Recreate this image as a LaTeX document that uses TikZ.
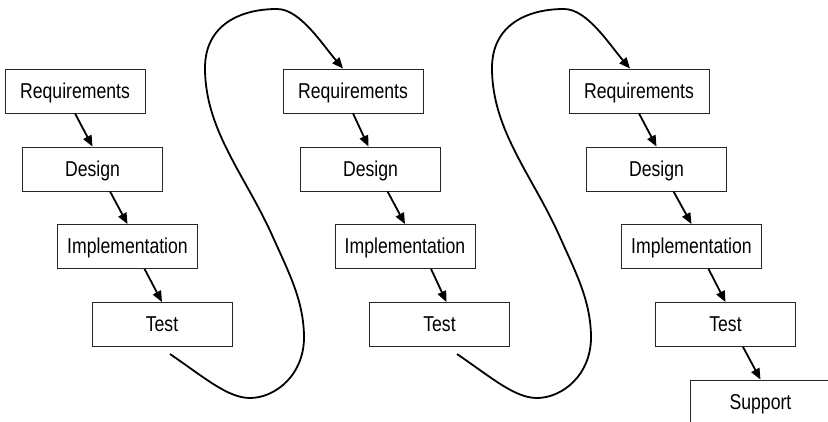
\documentclass[tikz,border=0pt]{standalone}
\usepackage{fontspec}
\setmainfont{Liberation Sans}
\newfontfamily\boxfont{Liberation Sans}[FakeStretch=0.82]
\usetikzlibrary{arrows.meta}
\tikzset{
  phase/.style={draw=black!85, line width=0.8pt, minimum width=140pt, minimum height=44pt,
    inner sep=0pt, text height=15pt, text depth=0pt, font=\boxfont\fontsize{21.5}{24}\selectfont},
  flow/.style={line width=1.8pt, -{Triangle[length=11pt,width=9pt]}},
  loopback/.style={line width=1.8pt, -{Triangle[length=11pt,width=9pt]}}
}
\begin{document}
\begin{tikzpicture}[x=1pt, y=-1pt]
\useasboundingbox (0,0) rectangle (828,422);
\clip (0,0) rectangle (828,422);
\fill[white] (0,0) rectangle (828,422);

% first iteration
\node[phase] (r1) at (75,91)     {Requirements};
\node[phase] (d1) at (92.5,169)  {Design};
\node[phase] (i1) at (127.5,246.5) {Implementation};
\node[phase] (t1) at (162,324.5) {Test};

% second iteration
\node[phase] (r2) at (353,91)     {Requirements};
\node[phase] (d2) at (370.5,169)  {Design};
\node[phase] (i2) at (405,246.5)  {Implementation};
\node[phase] (t2) at (439.5,324.5) {Test};

% third iteration
\node[phase] (r3) at (639,91)      {Requirements};
\node[phase] (d3) at (656.5,169)   {Design};
\node[phase] (i3) at (691.5,246.5) {Implementation};
\node[phase] (t3) at (725.5,324.5) {Test};
\node[phase] (s3) at (760.5,402)   {Support};

% cascade arrows
\draw[flow] (r1.south) -- (d1.north);
\draw[flow] ([xshift=17.5pt]d1.south) -- (i1.north);
\draw[flow] ([xshift=17pt]i1.south) -- (t1.north);

\draw[flow] (r2.south) -- ([xshift=-2pt]d2.north);
\draw[flow] ([xshift=17pt]d2.south) -- (i2.north);
\draw[flow] ([xshift=26pt]i2.south) -- ([xshift=7pt]t2.north);

\draw[flow] (r3.south) -- (d3.north);
\draw[flow] ([xshift=17pt]d3.south) -- (i3.north);
\draw[flow] ([xshift=17pt]i3.south) -- (t3.north);
\draw[flow] ([xshift=17.5pt]t3.south) -- (s3.north);

% loops back to the next iteration
\coordinate (l1) at (170,354);
\coordinate (l2) at (457,354);
\draw[loopback] (l1)
  .. controls (205,378) and (228,398) .. (250,398)
  .. controls (275,398) and (305,375) .. (304,335)
  .. controls (303,300) and (290,275) .. (272,235)
  .. controls (245,175) and (205,130) .. (205,68)
  .. controls (205,25) and (240,9) .. (277,9)
  .. controls (300,9) and (322,44) .. ([xshift=-10pt]r2.north);
\draw[loopback] (l2)
  .. controls (492,378) and (515,398) .. (537,398)
  .. controls (562,398) and (592,375) .. (591,335)
  .. controls (590,300) and (577,275) .. (559,235)
  .. controls (532,175) and (492,130) .. (492,68)
  .. controls (492,25) and (527,9) .. (564,9)
  .. controls (587,9) and (609,44) .. ([xshift=-9pt]r3.north);
\end{tikzpicture}
\end{document}
